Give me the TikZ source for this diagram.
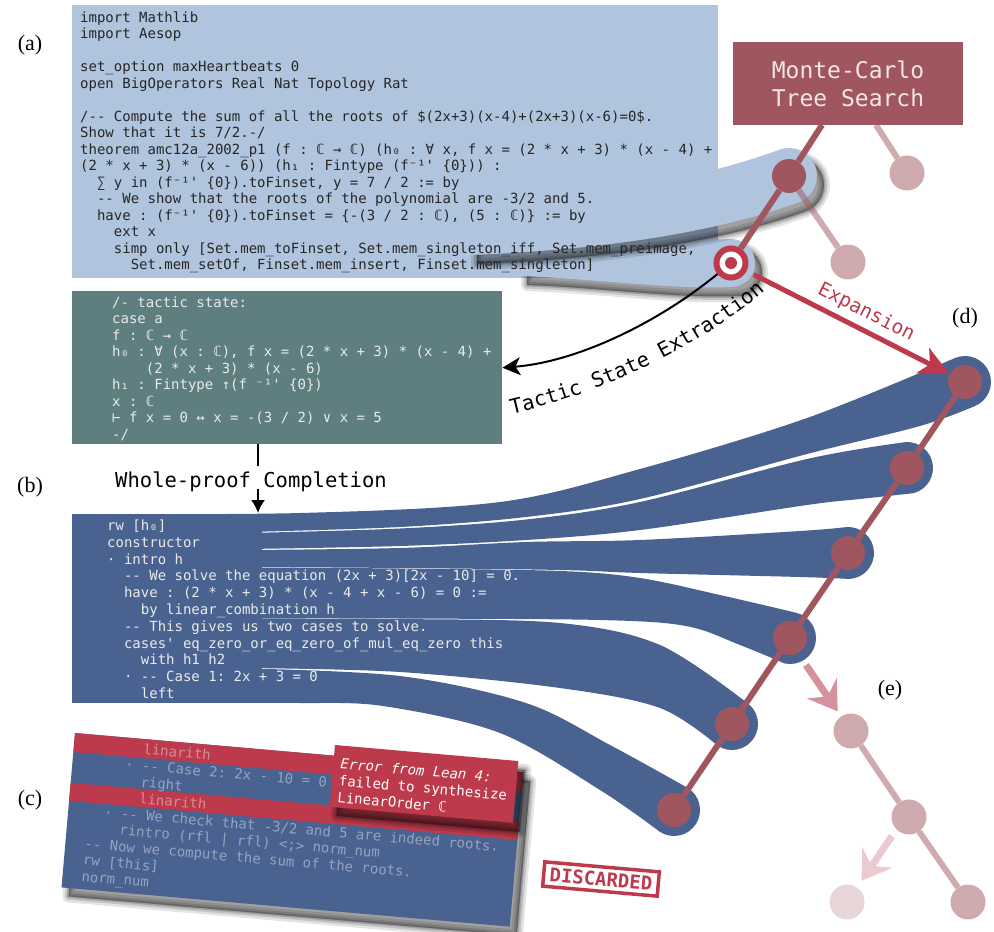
\documentclass[tikz,border=0pt]{standalone}
\usepackage{fontspec}
\setmainfont{Liberation Serif}
\setmonofont{DejaVu Sans Mono}
\usetikzlibrary{calc,arrows.meta,decorations.text}

\definecolor{lblue}{HTML}{B0C4DE}
\definecolor{tealbox}{HTML}{5E7E80}
\definecolor{dblue}{HTML}{4A6290}
\definecolor{dred}{HTML}{A0565F}
\definecolor{bred}{HTML}{BC3A4B}
\definecolor{ltext}{HTML}{EAEAEA}
\definecolor{dtext}{HTML}{262626}
\definecolor{pinka}{HTML}{D5929D}
\definecolor{pinkb}{HTML}{EBCBD1}
\definecolor{mctstext}{HTML}{F4E6E6}

\newcommand\ind[1]{\hspace*{#1\fontcharwd\font`x}}
\newcommand\codefont{\ttfamily\fontsize{14}{16.5}\selectfont}
\newcommand\codefontb{\ttfamily\fontsize{14}{16.8}\selectfont}
\newcommand\labfont{\ttfamily\fontsize{20.5}{24}\selectfont}
\newcommand\blurshadow[2]{%
  \foreach \w/\o in {12/0.11,7/0.14,3/0.18}{%
    \filldraw[black, opacity=\o, line width=\w pt, line join=round, shift={#1}] #2;}}

\def\LBone{(470,205) .. controls (580,200) and (694,181) .. (779.42,149.69) arc[start angle=-110, end angle=70, radius=28] .. controls (714,233) and (600,250) .. (470,255) -- cycle}
\def\LBtwo{(520,240) .. controls (610,240) and (670,241) .. (728.91,239.09) arc[start angle=-95, end angle=85, radius=24] .. controls (673,290) and (600,279) .. (520,276) -- cycle}
\def\Cbox{(0,0) rectangle (450,155)}
\def\Pbox{(0,0) rectangle (184,62)}

\tikzset{
  code/.style={font=\codefont, align=left, inner sep=0pt, anchor=north west},
  lab/.style={font=\fontsize{22}{26}\selectfont, inner sep=0pt},
  trnode/.style={circle, fill=dred, minimum size=34pt, inner sep=0pt},
  fadenode/.style={circle, fill=dred, fill opacity=0.5, minimum size=35pt, inner sep=0pt},
  tredge/.style={dred, line width=6pt},
  fadeedge/.style={dred, line width=6pt, draw opacity=0.5},
  finger/.style={fill=dblue},
  sm/.style={smooth, tension=0.55},
}

\begin{document}
\begin{tikzpicture}[x=1pt,y=-1pt]
\useasboundingbox (0,0) rectangle (994,932);

% ---------------- (a) theorem box
\node[fill=lblue, minimum width=646pt, minimum height=273pt, anchor=north west, inner sep=0pt] (boxa) at (72,5) {};
\blurshadow{(7,9)}{\LBtwo}
\fill[lblue] \LBtwo;
\blurshadow{(7,9)}{\LBone}
\fill[lblue] \LBone;

\node[code, text=dtext] (codea) at (80,10.45) {\strut import Mathlib\\
import Aesop\\
\mbox{}\\
set\_option maxHeartbeats 0\\
open BigOperators Real Nat Topology Rat\\
\mbox{}\\
/-- Compute the sum of all the roots of \$(2x+3)(x-4)+(2x+3)(x-6)=0\$.\\
Show that it is 7/2.-/\\
theorem amc12a\_2002\_p1 (f : ℂ → ℂ) (h₀ : ∀ x, f x = (2 * x + 3) * (x - 4) +\\
(2 * x + 3) * (x - 6)) (h₁ : Fintype (f⁻¹' \{0\})) :\\
\ind{2}∑ y in (f⁻¹' \{0\}).toFinset, y = 7 / 2 := by\\
\ind{2}-- We show that the roots of the polynomial are -3/2 and 5.\\
\ind{2}have : (f⁻¹' \{0\}).toFinset = \{-(3 / 2 : ℂ), (5 : ℂ)\} := by\\
\ind{4}ext x\\
\ind{4}simp only [Set.mem\_toFinset, Set.mem\_singleton\_iff, Set.mem\_preimage,\\
\ind{6}Set.mem\_setOf, Finset.mem\_insert, Finset.mem\_singleton]};

% ---------------- MCTS
\node[fill=dred, text=mctstext, minimum width=230pt, minimum height=83pt, align=center, inner sep=0pt,
      font=\ttfamily\fontsize{23}{28}\selectfont] (mcts) at (848,83.5) {Monte-Carlo\\Tree Search};
\coordinate (mL) at (822,125);
\coordinate (mR) at (876,125);
\node[trnode] (n1) at (789,176) {};
\node[fadenode] (f1) at (907,173) {};
\node[fadenode] (f2) at (848,262) {};
\node[circle, draw=bred, line width=6pt, fill=white, minimum size=29pt, inner sep=0pt] (tgt) at (731,263) {};
\node[circle, fill=bred, minimum size=12pt, inner sep=0pt] (tgtdot) at (tgt) {};
\draw[fadeedge] (mR) -- (f1);
\draw[fadeedge] (n1) -- (f2);
\draw[tredge] (mL) -- (n1);
\draw[tredge] (n1) -- (tgt);

% ---------------- tactic state box
\node[fill=tealbox, minimum width=430pt, minimum height=153pt, anchor=north west, inner sep=0pt] (tbox) at (72,291) {};
\node[code, text=ltext] (codet) at (112,295.45) {\strut /- tactic state:\\
case a\\
f : ℂ → ℂ\\
h₀ : ∀ (x : ℂ), f x = (2 * x + 3) * (x - 4) +\\
\ind{4}(2 * x + 3) * (x - 6)\\
h₁ : Fintype ↑(f ⁻¹' \{0\})\\
x : ℂ\\
⊢ f x = 0 ↔ x = -(3 / 2) ∨ x = 5\\
-/};

\draw[black, line width=2pt, -{Stealth[length=18pt,width=18pt,inset=5pt]}]
  (tgt) .. controls (655,325) and (575,362) .. (tbox.east);
\path[decorate, decoration={text along path, text align=center,
  text={|\ttfamily\fontsize{20.5}{24}\selectfont|Tactic State Extraction}}]
  (503,416) .. controls (601,395) and (705,345) .. (772,285);

% ---------------- fingers (d)
\node[trnode] (d1) at (965,382) {};
\node[trnode] (d2) at (907,468) {};
\node[trnode] (d3) at (848,553) {};
\node[trnode] (d4) at (790,638) {};
\node[trnode] (d5) at (732,724) {};
\node[trnode] (d6) at (674,810) {};

\fill[finger] plot[sm] coordinates {(247,668.5) (400,676) (526,703) (610,745) (687.78,787.95)}
  arc[start angle=-58, end angle=122, radius=26]
  -- plot[sm] coordinates {(660.22,832.05) (600,790) (500,733) (383,706) (300,703) (247,703)} -- cycle;
\fill[finger] plot[sm] coordinates {(247,618.5) (400,619) (560,623) (660,645) (746.16,702.19)}
  arc[start angle=-57, end angle=123, radius=26]
  -- plot[sm] coordinates {(717.84,745.81) (660,708) (560,688) (400,672) (247,668)} -- cycle;
\fill[finger] plot[sm] coordinates {(247,567.5) (400,568.5) (561,571) (640,578) (720,595) (795.41,612.57)}
  arc[start angle=-78, end angle=102, radius=26]
  -- plot[sm] coordinates {(784.59,663.43) (740,645) (686,626) (600,620) (400,618.5) (247,618)} -- cycle;
\fill[finger] plot[sm] coordinates {(247,550) (400,548) (526,542) (640,540) (800,531) (846.64,527.04)}
  arc[start angle=-93, end angle=87, radius=26]
  -- plot[sm] coordinates {(849.36,578.96) (800,577) (640,573) (561,570) (400,568) (247,567)} -- cycle;
\fill[finger] plot[sm] coordinates {(247,533) (400,528.5) (526,519.5) (640,502) (807,459) (900.71,442.77)}
  arc[start angle=-104, end angle=76, radius=26]
  -- plot[sm] coordinates {(913.29,493.23) (860,499) (807,505) (640,530) (526,540) (400,546) (247,549)} -- cycle;
\fill[finger] plot[sm] coordinates {(72,514) (300,513) (500,502) (640,469) (807,418) (955.26,357.89)}
  arc[start angle=-112, end angle=68, radius=26]
  -- plot[sm] coordinates {(974.74,406.11) (920,426) (807,454) (640,499) (526,517) (400,527) (247,532)} -- cycle;
\node[fill=dblue, minimum width=190pt, minimum height=189pt, anchor=north west, inner sep=0pt] (boxb) at (72,514) {};

\node[code, font=\codefontb, text=ltext] (codeb) at (107,518.45) {\strut rw [h₀]\\
constructor\\
· intro h\\
\ind{2}-- We solve the equation (2x + 3)[2x - 10] = 0.\\
\ind{2}have : (2 * x + 3) * (x - 4 + x - 6) = 0 :=\\
\ind{4}by linear\_combination h\\
\ind{2}-- This gives us two cases to solve.\\
\ind{2}cases' eq\_zero\_or\_eq\_zero\_of\_mul\_eq\_zero this\\
\ind{4}with h1 h2\\
\ind{2}· -- Case 1: 2x + 3 = 0\\
\ind{4}left};

\draw[tredge] (d1) -- (d2);
\draw[tredge] (d2) -- (d3);
\draw[tredge] (d3) -- (d4);
\draw[tredge] (d4) -- (d5);
\draw[tredge] (d5) -- (d6);
\node[trnode] at (d1) {};
\node[trnode] at (d2) {};
\node[trnode] at (d3) {};
\node[trnode] at (d4) {};
\node[trnode] at (d5) {};
\node[trnode] at (d6) {};

% expansion arrow
\draw[bred, line width=5pt, shorten <=8pt, -{Stealth[length=30pt,width=28pt,inset=8pt]}]
  (tgt) -- node[sloped, above=2pt, pos=0.55, text=bred, font=\ttfamily\fontsize{19.5}{23}\selectfont] (explab) {Expansion} (d1);

% whole-proof completion
\coordinate (wpA) at (258,444);
\coordinate (wpB) at (258,513);
\node[font=\labfont, anchor=base, inner sep=0pt] (wplab) at (251,487) {Whole-proof Completion};
\draw[black, line width=1.8pt] (wpA) -- (258,466);
\draw[black, line width=1.8pt, -{Latex[length=13pt,width=14pt]}] (258,489) -- (wpB);

% ---------------- (c) discarded
\blurshadow{(7,9)}{[shift={(75,733)}, rotate=-5] \Cbox}
\begin{scope}[shift={(75,733)}, rotate=-5, transform shape]
  \fill[dblue] \Cbox;
  \fill[bred] (0,0) rectangle (450,19);
  \fill[bred] (0,50) rectangle (450,68);
  \node[code, text=white, text opacity=0.42] (codec) at (19,3.45) {\strut \ind{6}linarith\\
\ind{4}· -- Case 2: 2x - 10 = 0\\
\ind{6}right\\
\ind{6}linarith\\
\ind{2}· -- We check that -3/2 and 5 are indeed roots.\\
\ind{4}rintro (rfl | rfl) <;> norm\_num\\
-- Now we compute the sum of the roots.\\
rw [this]\\
norm\_num};
\end{scope}
\blurshadow{(7,9)}{[shift={(335,745)}, rotate=-5] \Pbox}
\begin{scope}[shift={(335,745)}, rotate=-5, transform shape]
  \fill[bred] \Pbox;
  \node[code, font=\ttfamily\fontsize{14}{17}\selectfont, text=white] (errtxt) at (7,11) {\strut\textit{Error from Lean 4:}\\
failed to synthesize\\
LinearOrder ℂ};
\end{scope}
\node[draw=bred, line width=3.5pt, text=bred, font=\ttfamily\bfseries\fontsize{19}{22}\selectfont,
      inner xsep=6pt, inner ysep=5pt, rotate=-5] (disc) at (601,879) {DISCARDED};

% ---------------- (e)
\node[fadenode] (e1) at (851,731) {};
\node[fadenode] (e2) at (909,817) {};
\node[fadenode] (e3) at (968,902) {};
\node[circle, fill=dred, fill opacity=0.25, minimum size=35pt, inner sep=0pt] (e4) at (847,902) {};
\draw[fadeedge] (e1) -- (e2);
\draw[fadeedge] (e2) -- (e3);
\coordinate (ea1) at (806,665);
\coordinate (ea2) at (892,836);
\draw[pinka, line width=7pt, shorten >=6pt, -{Stealth[length=28pt,width=36pt,inset=10pt]}] (ea1) -- (e1);
\draw[pinkb, line width=7pt, shorten >=8pt, -{Stealth[length=28pt,width=36pt,inset=10pt]}] (ea2) -- (e4);

% ---------------- labels
\node[lab] (la) at (30,45) {(a)};
\node[lab] (lb) at (30,487) {(b)};
\node[lab] (lc) at (30,800) {(c)};
\node[lab] (ld) at (965,318) {(d)};
\node[lab] (le) at (890,690) {(e)};
\end{tikzpicture}
\end{document}
